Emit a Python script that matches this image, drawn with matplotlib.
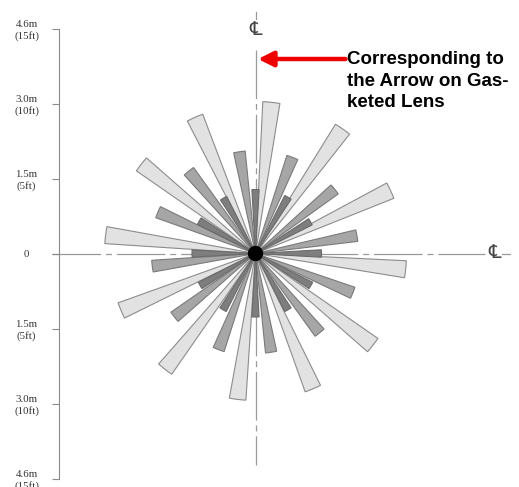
import matplotlib
matplotlib.use('Agg')
import matplotlib.pyplot as plt
from matplotlib.patches import Wedge, Circle

plt.rcParams['lines.scale_dashes'] = False

# spoke directions (degrees clockwise from the centre line at top) and reach in metres
light_ang = [6, 35, 65, 96, 128, 157, 187, 218, 247, 277, 308, 336]
light_len = [3.04, 3.04, 2.98, 3.02, 2.98, 2.94, 2.94, 2.94, 2.92, 3.02, 2.90, 2.98]
mid_ang = [351, 21, 51, 80, 112, 141, 171, 201, 232, 263, 293, 321]
mid_len = [2.06, 2.06, 2.04, 2.06, 2.10, 2.04, 2.00, 2.06, 2.06, 2.08, 2.12, 2.12]
dark_ang = [0, 30, 60, 90, 120, 150, 180, 210, 240, 270, 300, 330]
dark_len = [1.28, 1.30, 1.27, 1.32, 1.28, 1.30, 1.27, 1.30, 1.28, 1.27, 1.30, 1.28]
spoke_width = 6.5

ticks = [4.5, 3.0, 1.5, 0, -1.5, -3.0, -4.5]
tick_labels = ['4.6m\n(15ft)', '3.0m\n(10ft)', '1.5m\n(5ft)', '0',
               '1.5m\n(5ft)', '3.0m\n(10ft)', '4.6m\n(15ft)']

fig = plt.figure(figsize=(5.19, 4.87), dpi=100)
ax = fig.add_axes([0, 0, 1, 1])
ax.set_xlim(-5.11, 5.27)
ax.set_ylim(-4.67, 5.07)

axis_col = '#8a8a8a'

# centre lines
cl = dict(color='#9a9a9a', lw=0.9, dashes=(35, 3.5, 4.3, 3.5), zorder=1)
ax.plot([0, 0], [4.07, -4.23], **cl)
ax.plot([0, 0], [4.83, 4.69], color='#9a9a9a', lw=0.9, zorder=1)
ax.plot([-4.07, 4.59], [0, 0], **cl)
ax.plot([4.93, 5.09], [0, 0], color='#9a9a9a', lw=0.9, zorder=1)
sym_font = ['Liberation Serif', 'DejaVu Serif', 'DejaVu Sans']
ax.text(0.0, 4.46, '\u2104', ha='center', va='center', fontsize=14,
        family=sym_font, color='#444444')
ax.text(4.78, 0.0, '\u2104', ha='center', va='center', fontsize=14,
        family=sym_font, color='#444444')


def spokes(angles, lengths, face, edge, z):
    for a, r in zip(angles, lengths):
        t = 90 - a
        ax.add_patch(Wedge((0, 0), r, t - spoke_width / 2, t + spoke_width / 2,
                           facecolor=face, edgecolor=edge, lw=0.8, zorder=z))


spokes(light_ang, light_len, '#e2e2e2', '#8c8c8c', 2)
spokes(mid_ang, mid_len, '#a6a6a6', '#7a7a7a', 3)
spokes(dark_ang, dark_len, '#7e7e7e', '#6a6a6a', 4)
ax.add_patch(Circle((0, 0), 0.14, color='black', zorder=5))

# left scale
for s in ['top', 'right', 'bottom']:
    ax.spines[s].set_visible(False)
ax.spines['left'].set_position(('data', -3.94))
ax.spines['left'].set_bounds(-4.5, 4.5)
ax.spines['left'].set_color(axis_col)
ax.set_xticks([])
ax.set_yticks(ticks)
ax.set_yticklabels(tick_labels, family='Liberation Serif', fontsize=7.8,
                   linespacing=1.2, color='#333333')
ax.tick_params(axis='y', direction='out', length=5, width=0.8, color=axis_col, pad=18)
for lbl in ax.get_yticklabels():
    lbl.set_horizontalalignment('center')
    lbl.set_multialignment('center')

# arrow note
ax.annotate('', xy=(0.05, 3.89), xytext=(1.8, 3.89),
            arrowprops=dict(arrowstyle='-|>,head_length=0.9,head_width=0.45',
                            lw=3.2, color='#ee0000', shrinkA=0, shrinkB=0))
ax.text(1.83, 4.04, 'Corresponding to\nthe Arrow on Gas-\nketed Lens',
        ha='left', va='top', fontsize=13.5, fontweight='bold',
        family='Liberation Sans', linespacing=1.33)

fig.savefig('out.png', dpi=100)
